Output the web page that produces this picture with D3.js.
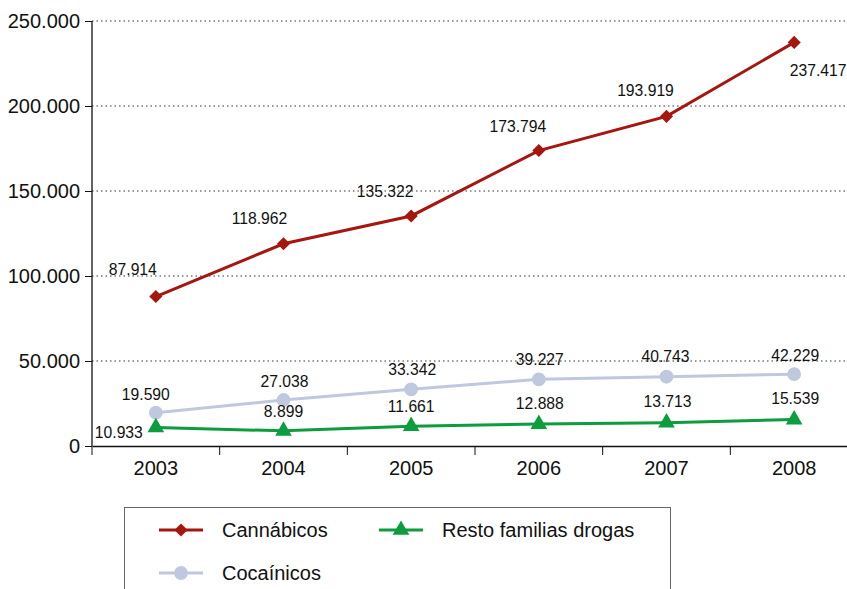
<!DOCTYPE html>
<html><head><meta charset="utf-8">
<script src="https://cdnjs.cloudflare.com/ajax/libs/d3/7.8.5/d3.min.js"></script>
<style>body{margin:0;background:#fff;}svg{display:block;font-family:"Liberation Sans",Arial,sans-serif;}</style>
</head><body><svg id="c" width="847" height="589"></svg>
<script>
const years = ["2003","2004","2005","2006","2007","2008"];
const cannabicos = [87914,118962,135322,173794,193919,237417];
const cocainicos = [19590,27038,33342,39227,40743,42229];
const resto = [10933,8899,11661,12888,13713,15539];
const yTicks = [0,50000,100000,150000,200000,250000];
const seriesNames = ["Cannábicos","Resto familias drogas","Cocaínicos"];

const fmt = v => v === 0 ? "0" : d3.format(",")(v).replace(/,/g,".");
const svg = d3.select("#c");
const x = d3.scaleBand().domain(years).range([92,858]);
const y = d3.scaleLinear().domain([0,250000]).range([446,21]);

// grid
svg.append("g").selectAll("line").data(yTicks.filter(d=>d>0)).join("line")
  .attr("x1",92).attr("x2",847).attr("y1",d=>y(d)).attr("y2",d=>y(d))
  .attr("stroke","#333").attr("stroke-width",1).attr("stroke-dasharray","1.5,3");

// y axis
const ya = svg.append("g").attr("transform","translate(92,0)")
  .call(d3.axisLeft(y).tickValues(yTicks).tickFormat(fmt).tickSize(7).tickPadding(5));
ya.select(".domain").attr("stroke","#111").attr("stroke-width",1.3).attr("d","M0,21V446");
ya.selectAll("text").attr("font-size",20).attr("fill","#111").attr("font-family","Liberation Sans,Arial,sans-serif");
ya.selectAll(".tick line").attr("stroke","#111");

// x axis
const xa = svg.append("g").attr("transform","translate(0,446)")
  .call(d3.axisBottom(x).tickSize(0).tickPadding(15));
xa.select(".domain").attr("stroke","#111").attr("stroke-width",1.3);
xa.selectAll("text").attr("font-size",20).attr("fill","#111").attr("font-family","Liberation Sans,Arial,sans-serif");
svg.append("g").selectAll("line").data(years.concat(["end"])).join("line")
  .attr("x1",(d,i)=>x.range()[0]+i*x.step()).attr("x2",(d,i)=>x.range()[0]+i*x.step())
  .attr("y1",446).attr("y2",455).attr("stroke","#111");

const cx = d => x(d)+x.bandwidth()/2;
const line = d3.line().x((d,i)=>cx(years[i])).y(d=>y(d));

const series = [
  {vals:cannabicos,color:"#a5160f",sym:d3.symbolDiamond2,size:110,
   off:[[-23,-27],[-24,-25],[-26,-24],[-21,-24],[-21,-26],[24,28]]},
  {vals:cocainicos,color:"#c0c8df",sym:d3.symbolCircle,size:150,
   off:[[-10,-18],[1,-19],[1,-20],[1,-20],[-1,-20],[1,-19]]},
  {vals:resto,color:"#0d9c3e",sym:d3.symbolTriangle,size:120,
   off:[[-37,5],[0,-19],[0,-20],[1,-21],[1,-21],[1,-21]]}
];

series.forEach(s=>{
  svg.append("path").datum(s.vals).attr("d",line).attr("fill","none")
    .attr("stroke",s.color).attr("stroke-width",3);
  svg.append("g").selectAll("path").data(s.vals).join("path")
    .attr("transform",(d,i)=>`translate(${cx(years[i])},${y(d)})`)
    .attr("d",d3.symbol().type(s.sym).size(s.size)).attr("fill",s.color);
  svg.append("g").selectAll("text").data(s.vals).join("text")
    .attr("x",(d,i)=>cx(years[i])+s.off[i][0]).attr("y",(d,i)=>y(d)+s.off[i][1]+5.5)
    .attr("text-anchor","middle").attr("font-size",15.7).attr("fill","#111")
    .text(d=>fmt(d));
});

// legend
const lg = svg.append("g");
lg.append("rect").attr("x",124.5).attr("y",507.5).attr("width",546).attr("height",100)
  .attr("fill","none").attr("stroke","#666").attr("stroke-width",1);
const legendItems = [
  {name:seriesNames[0],s:series[0],lx:159,ly:530},
  {name:seriesNames[1],s:series[2],lx:379,ly:530},
  {name:seriesNames[2],s:series[1],lx:159,ly:573}
];
legendItems.forEach(it=>{
  lg.append("line").attr("x1",it.lx).attr("x2",it.lx+44).attr("y1",it.ly).attr("y2",it.ly)
    .attr("stroke",it.s.color).attr("stroke-width",3);
  lg.append("path").attr("transform",`translate(${it.lx+22},${it.ly})`)
    .attr("d",d3.symbol().type(it.s.sym).size(it.s.size)).attr("fill",it.s.color);
  lg.append("text").attr("x",it.lx+63).attr("y",it.ly+7).attr("font-size",20).attr("fill","#111").text(it.name);
});
</script></body></html>
